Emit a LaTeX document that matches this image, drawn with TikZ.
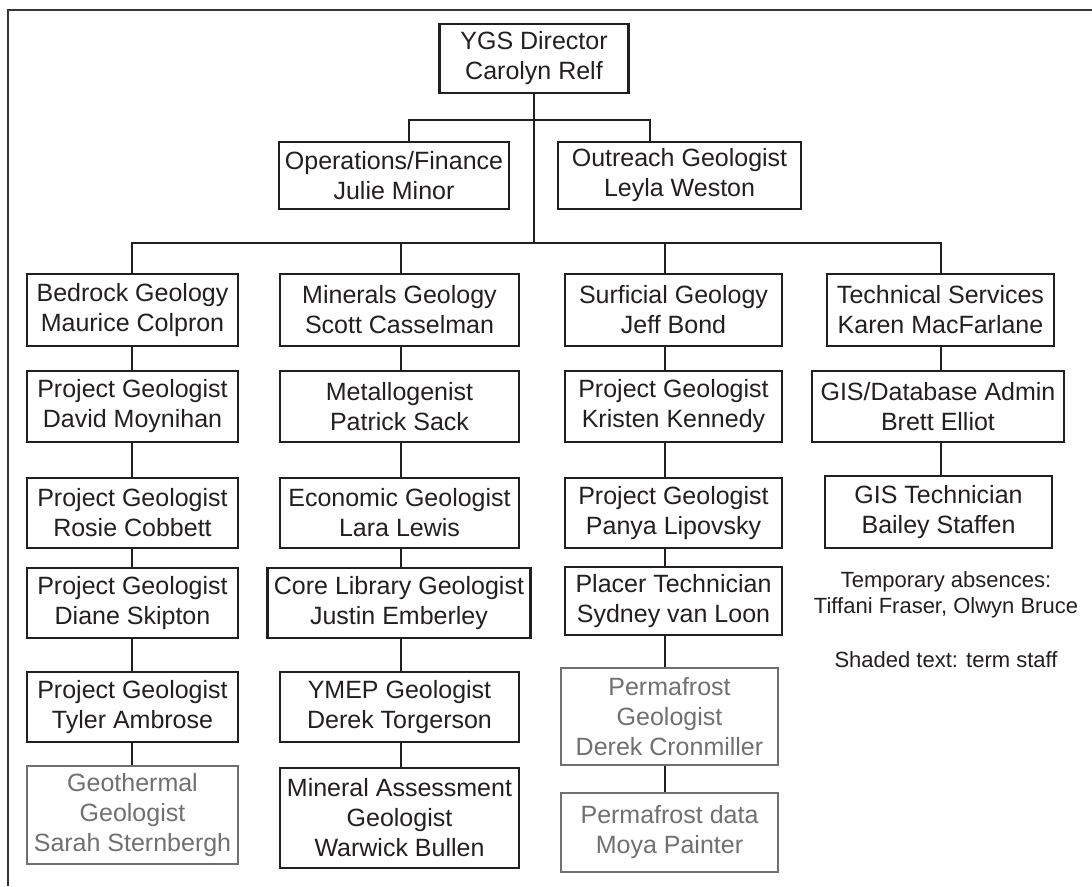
\documentclass[tikz,border=0pt]{standalone}
\usepackage{fontspec}
\setmainfont{Liberation Sans}
\definecolor{ink}{HTML}{231F20}
\definecolor{termgray}{HTML}{707070}

\begin{document}
\begin{tikzpicture}[x=1pt, y=-1pt,
    box/.style={draw=ink, line width=2.2pt, text=ink, align=center, inner sep=0pt,
      font=\fontsize{25}{30}\selectfont},
    termbox/.style={box, draw=termgray, text=termgray},
    link/.style={draw=ink, line width=2.2pt},
    note/.style={text=ink, align=center, inner sep=0pt, font=\fontsize{22}{26.5}\selectfont}]

    \useasboundingbox (0,0) rectangle (1092,886);

    % frame (only top and left edges in view)
    \draw[ink!90, line width=1.3pt] (1092,10) -- (8,10) -- (8,886);

    % director and staff
    \node[box, minimum width=189pt, minimum height=69pt] (dir) at (534,58.5) {YGS Director\\Carolyn Relf};
    \node[box, minimum width=230pt, minimum height=67pt] (ops) at (394,175.5) {Operations/Finance\\Julie Minor};
    \node[box, minimum width=243pt, minimum height=67pt] (outreach) at (679.5,175.5) {Outreach Geologist\\Leyla Weston};

    % line positions
    \coordinate (tee) at (534,120);
    \coordinate (bar) at (534,243);
    \coordinate (opsx) at (409,0);
    \coordinate (outx) at (650,0);
    \coordinate (colB) at (132,0);
    \coordinate (colM) at (401,0);
    \coordinate (colS) at (665,0);
    \coordinate (colT) at (941,0);

    % bedrock
    \node[box, minimum width=211pt, minimum height=72pt] (bed) at (132.5,310) {Bedrock Geology\\Maurice Colpron};
    \node[box, minimum width=211pt, minimum height=71pt] (dm) at (132.5,406.5) {Project Geologist\\David Moynihan};
    \node[box, minimum width=211pt, minimum height=70pt] (rc) at (132.5,513) {Project Geologist\\Rosie Cobbett};
    \node[box, minimum width=211pt, minimum height=70pt] (ds) at (132.5,603) {Project Geologist\\Diane Skipton};
    \node[box, minimum width=211pt, minimum height=70pt] (ta) at (132.5,707) {Project Geologist\\Tyler Ambrose};
    \node[termbox, minimum width=211pt, minimum height=98pt] (geo) at (132.5,815) {Geothermal\\Geologist\\Sarah Sternbergh};

    % minerals
    \node[box, minimum width=239pt, minimum height=72pt] (min) at (399.5,310) {Minerals Geology\\Scott Casselman};
    \node[box, minimum width=239pt, minimum height=71pt] (met) at (399.5,406.5) {Metallogenist\\Patrick Sack};
    \node[box, minimum width=239pt, minimum height=70pt] (eco) at (399.5,513) {Economic Geologist\\Lara Lewis};
    \node[box, minimum width=263pt, minimum height=70pt] (core) at (399,603) {Core Library Geologist\\Justin Emberley};
    \node[box, minimum width=239pt, minimum height=70pt] (ymep) at (399.5,707) {YMEP Geologist\\Derek Torgerson};
    \node[box, minimum width=239pt, minimum height=100pt] (mass) at (399.5,818) {Mineral Assessment\\Geologist\\Warwick Bullen};

    % surficial
    \node[box, minimum width=217pt, minimum height=72pt] (surf) at (673.5,310) {Surficial Geology\\Jeff Bond};
    \node[box, minimum width=217pt, minimum height=71pt] (kk) at (673.5,406.5) {Project Geologist\\Kristen Kennedy};
    \node[box, minimum width=217pt, minimum height=70pt] (pl) at (673.5,513) {Project Geologist\\Panya Lipovsky};
    \node[box, minimum width=217pt, minimum height=68pt] (svl) at (673.5,601) {Placer Technician\\Sydney van Loon};
    \node[termbox, minimum width=217pt, minimum height=97pt] (pcr) at (669.5,716.5) {Permafrost\\Geologist\\Derek Cronmiller};
    \node[termbox, minimum width=217pt, minimum height=79pt] (mp) at (669.5,832.5) {Permafrost data\\Moya Painter};

    % technical
    \node[box, minimum width=227pt, minimum height=72pt] (tech) at (940.5,310) {Technical Services\\Karen MacFarlane};
    \node[box, minimum width=252pt, minimum height=71pt] (gis) at (938,406.5) {GIS/Database Admin\\Brett Elliot};
    \node[box, minimum width=227pt, minimum height=72pt] (gtech) at (938.5,512) {GIS Technician\\Bailey Staffen};

    % notes
    \node[note] (absent) at (946,595) {Temporary absences:\\Tiffani Fraser, Olwyn Bruce};
    \node[note] (shade) at (946,660) {Shaded text: term staff};

    % director lines
    \draw[link] (dir.south) -- (bar);
    \draw[link] (ops.north -| opsx) -- (opsx |- tee) -- (outx |- tee) -- (outreach.north -| outx);
    \draw[link] (bed.north -| colB) -- (colB |- bar) -- (colT |- bar) -- (tech.north -| colT);
    \draw[link] (colM |- bar) -- (min.north -| colM) (colS |- bar) -- (surf.north -| colS);

    % column lines
    \draw[link] (bed.south -| colB) -- (dm.north -| colB) (dm.south -| colB) -- (rc.north -| colB)
                (rc.south -| colB) -- (ds.north -| colB) (ds.south -| colB) -- (ta.north -| colB)
                (ta.south -| colB) -- (geo.north -| colB);
    \draw[link] (min.south -| colM) -- (met.north -| colM) (met.south -| colM) -- (eco.north -| colM)
                (eco.south -| colM) -- (core.north -| colM) (core.south -| colM) -- (ymep.north -| colM)
                (ymep.south -| colM) -- (mass.north -| colM);
    \draw[link] (surf.south -| colS) -- (kk.north -| colS) (kk.south -| colS) -- (pl.north -| colS)
                (pl.south -| colS) -- (svl.north -| colS) (svl.south -| colS) -- (pcr.north -| colS)
                (pcr.south -| colS) -- (mp.north -| colS);
    \draw[link] (tech.south -| colT) -- (gis.north -| colT) (gis.south -| colT) -- (gtech.north -| colT);

\end{tikzpicture}
\end{document}
